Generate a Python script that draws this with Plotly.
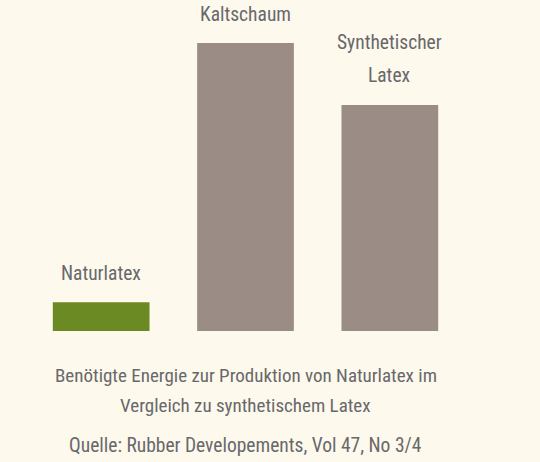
import plotly.graph_objects as go

# data
categories = ["Naturlatex", "Kaltschaum", "Synthetischer Latex"]
label_lines = [["Naturlatex"], ["Kaltschaum"], ["Synthetischer", "Latex"]]
energy = [10, 100, 78.5]
bar_colors = ["#6b8a24", "#9b8c85", "#9b8c85"]

caption_lines = ["Benötigte Energie zur Produktion von Naturlatex im",
                 "Vergleich zu synthetischem Latex"]
source = "Quelle: Rubber Developements, Vol 47, No 3/4"

bg = "#fdf9ec"
text_color = "#68686b"
font_family = "Roboto Condensed, Liberation Sans Narrow, Roboto, sans-serif"
label_font = dict(size=19.5, color=text_color, family=font_family)
caption_font = dict(size=19, color=text_color, family=font_family)
source_font = dict(size=19.5, color=text_color, family=font_family)

fig = go.Figure()
fig.add_trace(go.Bar(
    x=categories,
    y=energy,
    marker=dict(color=bar_colors, line=dict(width=0)),
    hoverinfo="skip",
))

# labels above the bars, last line closest to the bar
for cat, lines, val in zip(categories, label_lines, energy):
    for i, line in enumerate(reversed(lines)):
        fig.add_annotation(x=cat, y=val, text=line, showarrow=False,
                           yanchor="middle", yshift=29 + 33 * i,
                           font=label_font)

# caption and source under the plot area
for i, line in enumerate(caption_lines):
    fig.add_annotation(xref="paper", yref="paper", x=0.5, y=0, text=line,
                       showarrow=False, yanchor="middle", yshift=-44 - 30 * i,
                       font=caption_font)
fig.add_annotation(xref="paper", yref="paper", x=0.5, y=0, text=source,
                   showarrow=False, yanchor="middle", yshift=-114,
                   font=source_font)

fig.update_layout(
    width=540, height=462,
    margin=dict(l=29, r=78, t=43, b=131),
    paper_bgcolor=bg, plot_bgcolor=bg,
    bargap=0.33,
    showlegend=False,
    font=dict(family=font_family, color=text_color),
)
fig.update_xaxes(visible=False)
fig.update_yaxes(visible=False, range=[0, 100])

# drop the page margin so the figure sits flush in the window
fig.write_html("out.html", config={"displayModeBar": False},
               post_script="document.body.style.margin='0';")
